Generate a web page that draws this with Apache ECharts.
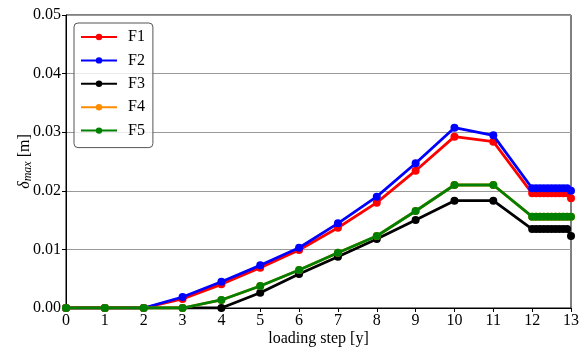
<!DOCTYPE html>
<html>
<head>
<meta charset="utf-8">
<script src="https://cdn.jsdelivr.net/npm/echarts@6/dist/echarts.min.js"></script>
<style>
  html, body { margin: 0; padding: 0; background: #fff; }
  #chart { width: 579px; height: 352px; }
</style>
</head>
<body>
<div id="chart"></div>
<script>
// Loading steps (x) - integer steps then fine substeps between 12 and 13
const steps = [0, 1, 2, 3, 4, 5, 6, 7, 8, 9, 10, 11,
    12, 12.1, 12.2, 12.3, 12.4, 12.5, 12.6, 12.7, 12.8, 12.9, 13];

// delta_max values [m]
const f1 = [0, 0, 0, 0.00154, 0.00404, 0.00688, 0.0099, 0.0137, 0.01797, 0.02343, 0.02924, 0.02838,
    0.01957, 0.01957, 0.01957, 0.01957, 0.01957, 0.01957, 0.01957, 0.01957, 0.01957, 0.01957, 0.01872];
const f2 = [0, 0, 0, 0.00188, 0.00449, 0.00728, 0.01029, 0.01445, 0.019, 0.0247, 0.03077, 0.02947,
    0.02043, 0.02043, 0.02043, 0.02043, 0.02043, 0.02043, 0.02043, 0.02043, 0.02043, 0.02043, 0.0200];
const f3 = [0, 0, 0, 0, 0, 0.0026, 0.0058, 0.00875, 0.01177, 0.01502, 0.01831, 0.01831,
    0.01348, 0.01348, 0.01348, 0.01348, 0.01348, 0.01348, 0.01348, 0.01348, 0.01348, 0.01348, 0.01229];
const f4 = [0, 0, 0, 0, 0.00137, 0.00375, 0.00648, 0.00944, 0.01229, 0.01655, 0.02099, 0.02099,
    0.01558, 0.01558, 0.01558, 0.01558, 0.01558, 0.01558, 0.01558, 0.01558, 0.01558, 0.01558, 0.01558];
const f5 = [0, 0, 0, 0, 0.00137, 0.00375, 0.00648, 0.00944, 0.01229, 0.01655, 0.02099, 0.02099,
    0.01558, 0.01558, 0.01558, 0.01558, 0.01558, 0.01558, 0.01558, 0.01558, 0.01558, 0.01558, 0.01558];

const seriesNames = ['F1', 'F2', 'F3', 'F4', 'F5'];
const seriesValues = [f1, f2, f3, f4, f5];
const seriesColors = ['#ff0000', '#0000ff', '#000000', '#ff8c00', '#008000'];

const font = 'Liberation Serif, Times New Roman, serif';

function pairs(vals) {
    return steps.map((x, i) => [x, vals[i]]);
}

const chart = echarts.init(document.getElementById('chart'), null, { renderer: 'canvas' });

const option = {
    backgroundColor: '#fff',
    animation: false,
    grid: {
        left: 66, right: 8, top: 15, bottom: 44,
        outerBoundsMode: 'none',
        containLabel: false,
        show: true,
        borderColor: '#000',
        borderWidth: 1
    },
    legend: {
        data: seriesNames,
        orient: 'vertical',
        left: 74,
        top: 23,
        itemWidth: 36,
        itemHeight: 8,
        itemGap: 7.4,
        padding: [6, 8, 9, 6],
        borderColor: '#555',
        borderWidth: 1,
        borderRadius: 4,
        backgroundColor: 'rgba(255,255,255,0.8)',
        textStyle: { fontFamily: font, fontSize: 16, color: '#000', padding: [0, 0, 0, 6] }
    },
    xAxis: {
        type: 'value',
        min: 0,
        max: 13,
        interval: 1,
        name: 'loading step [y]',
        nameLocation: 'middle',
        nameGap: 23,
        nameMoveOverlap: false,
        nameTextStyle: { fontFamily: font, fontSize: 16, color: '#000' },
        axisLine: { lineStyle: { color: '#000', width: 1 } },
        axisTick: { show: true, length: 4, lineStyle: { color: '#000' } },
        axisLabel: { fontFamily: font, fontSize: 16, color: '#000', margin: 5 },
        splitLine: { show: false }
    },
    yAxis: {
        type: 'value',
        min: 0,
        max: 0.05,
        interval: 0.01,
        name: '{d|δ}{s|max} [m]',
        nameLocation: 'middle',
        nameGap: 32,
        nameMoveOverlap: false,
        nameTextStyle: {
            fontFamily: font, fontSize: 16, color: '#000',
            rich: {
                d: { fontFamily: font, fontSize: 16, fontStyle: 'italic' },
                s: { fontFamily: font, fontSize: 12, fontStyle: 'italic', padding: [6, 0, 0, 0] }
            }
        },
        axisLine: { show: true, lineStyle: { color: '#000', width: 1 } },
        axisTick: { show: true, length: 4, lineStyle: { color: '#000' } },
        axisLabel: {
            fontFamily: font, fontSize: 16, color: '#000', margin: 5,
            formatter: v => v.toFixed(2)
        },
        splitLine: { show: true, lineStyle: { color: '#999', width: 1 } }
    },
    series: seriesNames.map((name, i) => ({
        name: name,
        type: 'line',
        data: pairs(seriesValues[i]),
        symbol: 'circle',
        symbolSize: 8,
        showAllSymbol: true,
        color: seriesColors[i],
        lineStyle: { width: 2.8, color: seriesColors[i] },
        itemStyle: { color: seriesColors[i] },
        z: 2 + i
    }))
};

chart.setOption(option);
</script>
</body>
</html>
